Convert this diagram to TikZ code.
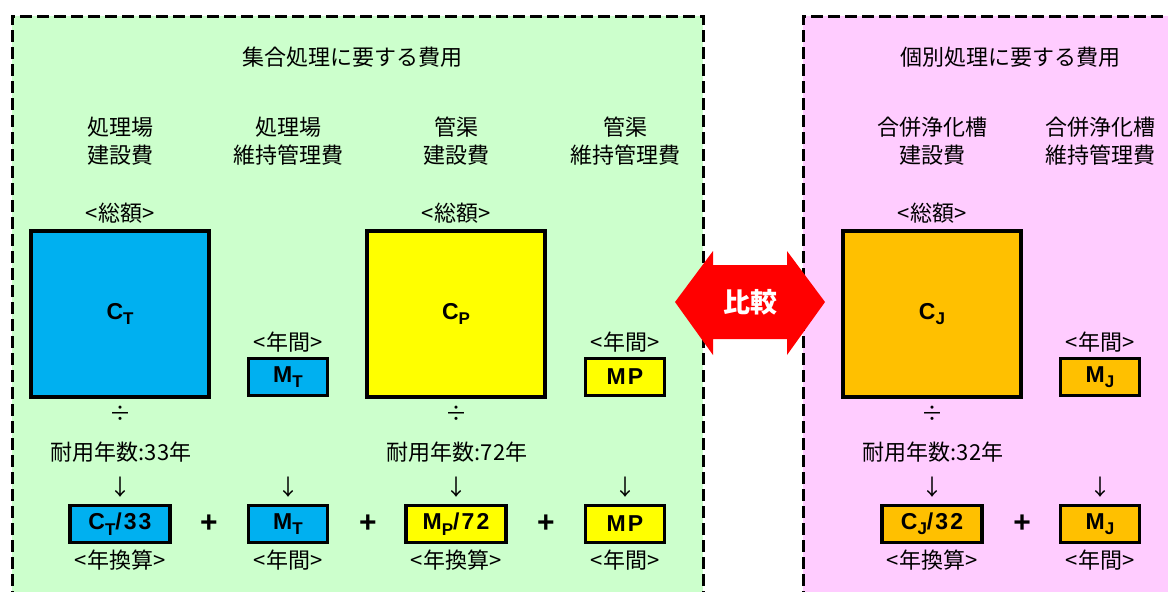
\documentclass[tikz,border=0pt]{standalone}
\usepackage{fontspec}
\setmainfont{Noto Sans CJK JP}
\newfontfamily\latinbold[LetterSpace=9]{Liberation Sans}
\usetikzlibrary{positioning}
\definecolor{panelgreen}{HTML}{CCFFCC}
\definecolor{panelpink}{HTML}{FFCCFF}
\definecolor{costblue}{HTML}{00B0F0}
\definecolor{costyellow}{HTML}{FFFF00}
\definecolor{costorange}{HTML}{FFC000}
\newcommand{\lowidx}[1]{\raisebox{-0.45ex}{\fontsize{8.5pt}{9pt}\selectfont #1}}
\begin{document}
\begin{tikzpicture}[x=0.5pt, y=-0.5pt,
    every node/.style={font=\fontsize{11pt}{14pt}\selectfont, align=center, inner sep=0pt},
    panel/.style={line width=1.5pt, dash pattern=on 6pt off 2.5pt},
    bigbox/.style={draw, line width=1.6pt, minimum width=89pt, minimum height=83pt,
        font=\latinbold\bfseries\fontsize{11.5pt}{12pt}\selectfont},
    smallbox/.style={bigbox, minimum width=39.5pt, minimum height=18.5pt},
    sumbox/.style={bigbox, minimum width=50pt, minimum height=18.5pt},
    plus/.style={font=\latinbold\bfseries\fontsize{15pt}{15pt}\selectfont}]
    \useasboundingbox (0,0) rectangle (1168,591);
    \clip (0,0) rectangle (1168,591);
    % panels
    \fill[panelgreen] (12,16) rectangle (703,620);
    \draw[panel] (12,620) -- (12,16) -- (703,16) -- (703,620);
    \fill[panelpink] (803,16) rectangle (1190,620);
    \draw[panel] (803,620) -- (803,16) -- (1190,16);
    \node (titleGroup) at (352,57) {集合処理に要する費用};
    \node (titleSingle) at (1010,57) {個別処理に要する費用};
    % column heads
    \node (headTc) at (120,141) {処理場\\建設費};
    \node (headTm) at (288,141) {処理場\\維持管理費};
    \node (headPc) at (456,141) {管渠\\建設費};
    \node (headPm) at (625,141) {管渠\\維持管理費};
    \node (headJc) at (932,141) {合併浄化槽\\建設費};
    \node (headJm) at (1100,141) {合併浄化槽\\維持管理費};
    % totals
    \node (totT) at (120,213) {<総額>};
    \node (totP) at (456,213) {<総額>};
    \node (totJ) at (932,213) {<総額>};
    \node[bigbox, fill=costblue] (CT) at (120,314) {C\lowidx{T}};
    \node[bigbox, fill=costyellow] (CP) at (456,314) {C\lowidx{P}};
    \node[bigbox, fill=costorange] (CJ) at (932,314) {C\lowidx{J}};
    % yearly
    \node (yrT) at (288,342) {<年間>};
    \node (yrP) at (625,342) {<年間>};
    \node (yrJ) at (1100,342) {<年間>};
    \node[smallbox, fill=costblue] (MT) at (288,377) {M\lowidx{T}};
    \node[smallbox, fill=costyellow] (MP) at (625,377) {MP};
    \node[smallbox, fill=costorange] (MJ) at (1100,377) {M\lowidx{J}};
    % life
    \node (divT) at (120,414) {÷};
    \node (divP) at (456,414) {÷};
    \node (divJ) at (932,414) {÷};
    \node (lifeT) at (121,452) {耐用年数:33年};
    \node (lifeP) at (457,452) {耐用年数:72年};
    \node (lifeJ) at (933,452) {耐用年数:32年};
    \foreach \x in {120,288,456,625,932,1100}
        \node at (\x,487) {↓};
    % annual sums
    \node[sumbox, fill=costblue] (CTy) at (120,524) {C\lowidx{T}/33};
    \node[smallbox, fill=costblue] (MTy) at (288,524) {M\lowidx{T}};
    \node[sumbox, fill=costyellow] (CPy) at (456,524) {M\lowidx{P}/72};
    \node[smallbox, fill=costyellow] (MPy) at (625,524) {MP};
    \node[sumbox, fill=costorange] (CJy) at (932,524) {C\lowidx{J}/32};
    \node[smallbox, fill=costorange] (MJy) at (1100,524) {M\lowidx{J}};
    \foreach \x in {209,368,546,1022}
        \node[plus] at (\x,524) {+};
    \node (convT) at (120,560) {<年換算>};
    \node (convTm) at (288,560) {<年間>};
    \node (convP) at (456,560) {<年換算>};
    \node (convPm) at (625,560) {<年間>};
    \node (convJ) at (932,560) {<年換算>};
    \node (convJm) at (1100,560) {<年間>};
    % compare arrow
    \fill[red] (675,302) -- (713,251) -- (713,265) -- (787,265) -- (787,251)
        -- (825,302) -- (787,355) -- (787,339) -- (713,339) -- (713,355) -- cycle;
    \node[text=white, font=\bfseries\fontsize{13.5pt}{14pt}\selectfont] (cmp) at (750,302) {比較};
\end{tikzpicture}
\end{document}
